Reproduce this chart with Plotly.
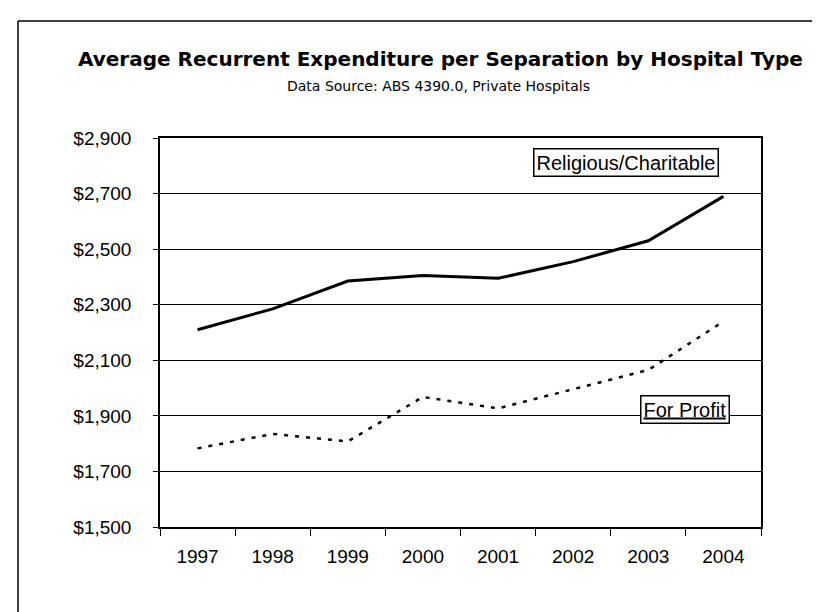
import plotly.graph_objects as go

years = ["1997", "1998", "1999", "2000", "2001", "2002", "2003", "2004"]
religious = [2210, 2285, 2385, 2405, 2395, 2455, 2530, 2690]
for_profit = [1783, 1835, 1808, 1968, 1927, 1995, 2065, 2240]
y_ticks = [1500, 1700, 1900, 2100, 2300, 2500, 2700, 2900]

L, R, T, B = 152, 753, 130, 519
W, H = 820, 612
PW, PH = R - L, B - T


def px(x):
    return (x - L) / PW


def py(y):
    return (B - y) / PH


fig = go.Figure()
fig.add_trace(go.Scatter(x=years, y=religious, mode="lines", name="Religious/Charitable",
                         line=dict(color="black", width=3)))
fig.add_trace(go.Scatter(x=years, y=for_profit, mode="lines", name="For Profit",
                         line=dict(color="black", width=2.5, dash="4px,7px")))

fig.update_layout(
    width=W, height=H,
    margin=dict(l=L, r=W - R, t=T, b=H - B),
    paper_bgcolor="white", plot_bgcolor="white",
    showlegend=False,
    font=dict(family="Liberation Sans, Arial, sans-serif", color="black"),
)
fig.update_xaxes(
    type="category", range=[-0.5, 7.5], tickson="boundaries", ticks="outside", ticklen=7,
    tickcolor="black", showline=True, linecolor="black", linewidth=1.5, mirror=True,
    showgrid=False, tickfont=dict(size=19), ticklabelstandoff=11,
)
fig.update_yaxes(
    range=[1500, 2900], tickvals=y_ticks, tickformat="$,.0f",
    ticks="outside", ticklen=5, tickcolor="black",
    showline=True, linecolor="black", linewidth=1.5, mirror=True,
    showgrid=True, gridcolor="black", gridwidth=1, zeroline=False,
    tickfont=dict(size=19), ticklabelstandoff=18,
)

fig.add_annotation(xref="paper", yref="paper", x=px(432), y=py(51),
                   text="<b>Average Recurrent Expenditure per Separation by Hospital Type</b>",
                   showarrow=False, font=dict(family="DejaVu Sans", size=20, color="black"),
                   xanchor="center", yanchor="middle")
fig.add_annotation(xref="paper", yref="paper", x=px(430), y=py(78),
                   text="Data Source: ABS 4390.0, Private Hospitals",
                   showarrow=False, font=dict(family="DejaVu Sans", size=14, color="black"),
                   xanchor="center", yanchor="middle")

fig.add_annotation(xref="paper", yref="paper", x=px(618), y=py(154),
                   text="Religious/Charitable", showarrow=False,
                   font=dict(size=20, color="black"), bordercolor="black", borderwidth=1.5,
                   borderpad=2, bgcolor="white", xanchor="center", yanchor="middle")
fig.add_annotation(xref="paper", yref="paper", x=px(677), y=py(401),
                   text="<u>For Profit</u>", showarrow=False,
                   font=dict(size=20, color="black"), bordercolor="black", borderwidth=1.5,
                   borderpad=2, bgcolor="white", xanchor="center", yanchor="middle")

# outer chart frame (left and top edges)
fig.add_shape(type="line", xref="paper", yref="paper",
              x0=px(10), x1=px(820), y0=py(13), y1=py(13),
              line=dict(color="black", width=1.5))
fig.add_shape(type="line", xref="paper", yref="paper",
              x0=px(10), x1=px(10), y0=py(13), y1=py(612),
              line=dict(color="black", width=1.5))

fig.write_html("out.html")
